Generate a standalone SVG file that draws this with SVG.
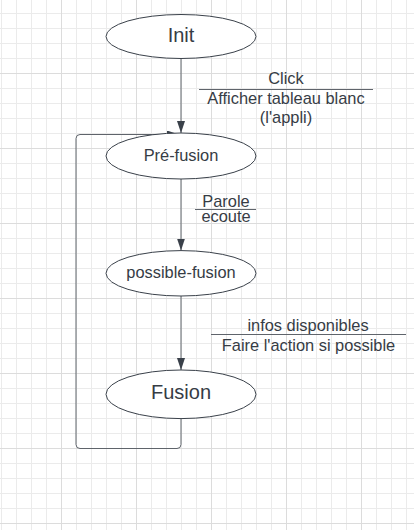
<svg xmlns="http://www.w3.org/2000/svg" width="414" height="530" viewBox="0 0 414 530">
  <style>
    .node ellipse { fill: #ffffff; stroke: #3a414a; stroke-width: 1; }
    .nlabel { font-family: "Liberation Sans", Arial, sans-serif; fill: #363c45; text-anchor: middle; }
    .elabel { font-family: "Liberation Sans", Arial, sans-serif; font-size: 16.4px; fill: #363c45; text-anchor: middle; }
    .edge { fill: none; stroke: #5f646b; stroke-width: 1; }
    .sep { stroke: #5f646b; stroke-width: 1; }
  </style>
  <defs>
    <pattern id="minor" patternUnits="userSpaceOnUse" x="1" y="13" width="15" height="15">
      <path d="M0.5 0V15M0 0.5H15" stroke="#ebebeb" stroke-width="1" fill="none"/>
    </pattern>
    <pattern id="major" patternUnits="userSpaceOnUse" x="61" y="73" width="75" height="75">
      <path d="M0.5 0V75M0 0.5H75" stroke="#dcdcdc" stroke-width="1" fill="none"/>
    </pattern>
    <marker id="arrow" viewBox="0 0 12 8" refX="12" refY="4" markerWidth="12" markerHeight="8" orient="auto" markerUnits="userSpaceOnUse">
      <path d="M0 0L12 4L0 8Z" fill="#3a414a"/>
    </marker>
  </defs>
  <rect width="414" height="530" fill="#ffffff"/>
  <rect width="414" height="530" fill="url(#minor)"/>
  <rect width="414" height="530" fill="url(#major)"/>

  <g id="connectors">
    <path class="edge" d="M181 59V133" marker-end="url(#arrow)"/>
    <path class="edge" d="M181 179V250.5" marker-end="url(#arrow)"/>
    <path class="edge" d="M181 296V370" marker-end="url(#arrow)"/>
    <path class="edge" d="M181 418.5V444.5Q181 448.5 177 448.5H80Q76 448.5 76 444.5V138.5Q76 134.5 80 134.5H179" marker-end="url(#arrow)"/>
  </g>

  <g id="node-init" class="node">
    <ellipse cx="181" cy="36.5" rx="75" ry="22"/>
    <text class="nlabel" x="181" y="42" font-size="20">Init</text>
  </g>
  <g id="node-prefusion" class="node">
    <ellipse cx="181" cy="156" rx="75" ry="23"/>
    <text class="nlabel" x="181" y="160.7" font-size="16.4">Pré-fusion</text>
  </g>
  <g id="node-possiblefusion" class="node">
    <ellipse cx="181" cy="273.3" rx="75" ry="22.7"/>
    <text class="nlabel" x="181" y="278.3" font-size="16.4">possible-fusion</text>
  </g>
  <g id="node-fusion" class="node">
    <ellipse cx="181" cy="394.3" rx="75" ry="24.3"/>
    <text class="nlabel" x="181" y="398.7" font-size="20">Fusion</text>
  </g>

  <g id="label-click">
    <text class="elabel" x="286" y="84">Click</text>
    <line class="sep" x1="199" y1="89.5" x2="373" y2="89.5"/>
    <text class="elabel" x="286" y="104">Afficher tableau blanc</text>
    <text class="elabel" x="286" y="123">(l'appli)</text>
  </g>
  <g id="label-parole">
    <text class="elabel" x="226" y="206.7">Parole</text>
    <line class="sep" x1="195" y1="209.5" x2="256" y2="209.5"/>
    <text class="elabel" x="226" y="222.3">ecoute</text>
  </g>
  <g id="label-infos">
    <text class="elabel" x="308" y="330.5">infos disponibles</text>
    <line class="sep" x1="211" y1="334.5" x2="406" y2="334.5"/>
    <text class="elabel" x="308.5" y="350.5">Faire l'action si possible</text>
  </g>
</svg>
